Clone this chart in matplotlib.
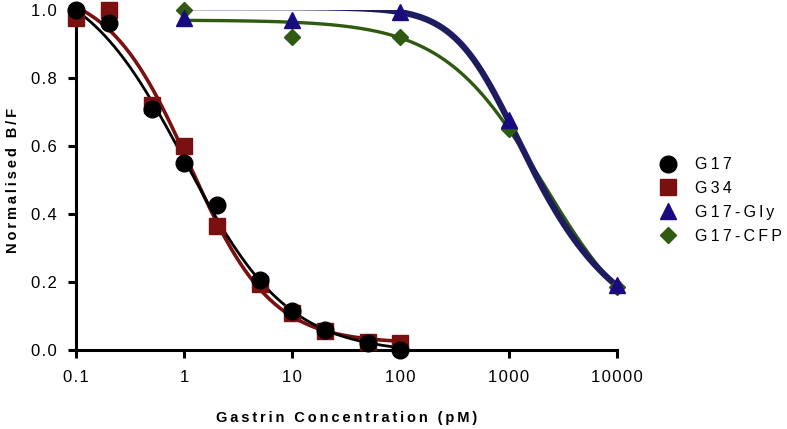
import numpy as np
import matplotlib
matplotlib.use('Agg')
import matplotlib.pyplot as plt

plt.rcParams['font.family'] = ['Liberation Sans', 'DejaVu Sans']

# data
conc_g = [0.1, 0.2, 0.5, 1, 2, 5, 10, 20, 50, 100]
g17 = [1.0, 0.96, 0.71, 0.55, 0.425, 0.205, 0.115, 0.06, 0.02, 0.0]
g34 = [0.975, 1.0, 0.72, 0.60, 0.365, 0.195, 0.11, 0.055, 0.025, 0.02]
conc_h = [1, 10, 100, 1000, 10000]
g17_gly = [0.975, 0.97, 0.995, 0.675, 0.19]
g17_cfp = [1.0, 0.92, 0.92, 0.65, 0.185]

# fitted curve parameters (top, bottom, ic50, hill, asym)
fit_g17 = (1.12, -0.01, 1.02, 0.913, 1.0)
fit_g34 = (1.07, 0.02, 1.12, 1.15, 1.0)
fit_gly = (1.008, 0.0, 658.0, 1.69, 0.363)
fit_cfp = (0.97, 0.0, 2137.0, 0.935, 1.0)


def logistic(x, p):
    top, bottom, ic50, hill, s = p
    return bottom + (top - bottom) / (1 + (x / ic50) ** hill) ** s


def spaced(t, sp='\u200a'):
    return sp.join(t)


fig = plt.figure(figsize=(7.87, 4.29), dpi=100)
ax = fig.add_axes([0.0966, 0.184, 0.687, 0.793])

xs1 = np.logspace(-1, 2, 200)
xs2 = np.logspace(0, 4, 200)

c_black = '#000000'
c_red = '#7a1010'
c_blue = '#1c1c5e'
c_bluem = '#1a0a80'
c_green = '#2e5a12'

ax.plot(xs1, logistic(xs1, fit_g17), color=c_black, lw=2.0, zorder=3)
ax.plot(xs1, logistic(xs1, fit_g34), color=c_red, lw=2.6, zorder=2)
ax.plot(xs2, logistic(xs2, fit_cfp), color=c_green, lw=2.4, zorder=2)
ax.plot(xs2, logistic(xs2, fit_gly), color=c_blue, lw=4.5, zorder=3)

ax.plot(conc_g, g34, 's', color=c_red, ms=11, label=spaced('G34', '\u2009'), clip_on=False, zorder=4)
ax.plot(conc_g, g17, 'o', color=c_black, ms=12, label=spaced('G17', '\u2009'), clip_on=False, zorder=5)
ax.plot(conc_h, g17_cfp, 'D', color=c_green, ms=8.5, label=spaced('G17-CFP', '\u2009'), clip_on=False, zorder=4)
ax.plot(conc_h, g17_gly, '^', color=c_bluem, ms=11, label=spaced('G17-Gly', '\u2009'), clip_on=False, zorder=5)

ax.set_xscale('log')
ax.set_xlim(0.1, 10000)
ax.set_ylim(0, 1.0)
ax.set_xticks([0.1, 1, 10, 100, 1000, 10000])
ax.set_xticklabels([spaced(s) for s in ['0.1', '1', '10', '100', '1000', '10000']])
ax.set_yticks([0, 0.2, 0.4, 0.6, 0.8, 1.0])
ax.set_yticklabels([spaced(s) for s in ['0.0', '0.2', '0.4', '0.6', '0.8', '1.0']])
ax.minorticks_off()
ax.tick_params(width=2.2, length=6, labelsize=12, pad=8)

for side in ['top', 'right']:
    ax.spines[side].set_visible(False)
for side in ['left', 'bottom']:
    ax.spines[side].set_linewidth(2.2)

ax.set_xlabel(spaced('Gastrin Concentration (pM)', '\u2009'), fontsize=10.5, fontweight='bold', labelpad=19)
ax.set_ylabel(spaced('Normalised B/F', '\u2009'), fontsize=10.5, fontweight='bold', labelpad=8)

handles, labels = ax.get_legend_handles_labels()
order = [1, 0, 3, 2]
ax.legend([handles[i] for i in order], [labels[i] for i in order],
          loc='center left', bbox_to_anchor=(1.05, 0.44), frameon=False,
          fontsize=11.5, handletextpad=1.1, labelspacing=0.55, handlelength=1.2)

fig.savefig('out.png', dpi=100)
